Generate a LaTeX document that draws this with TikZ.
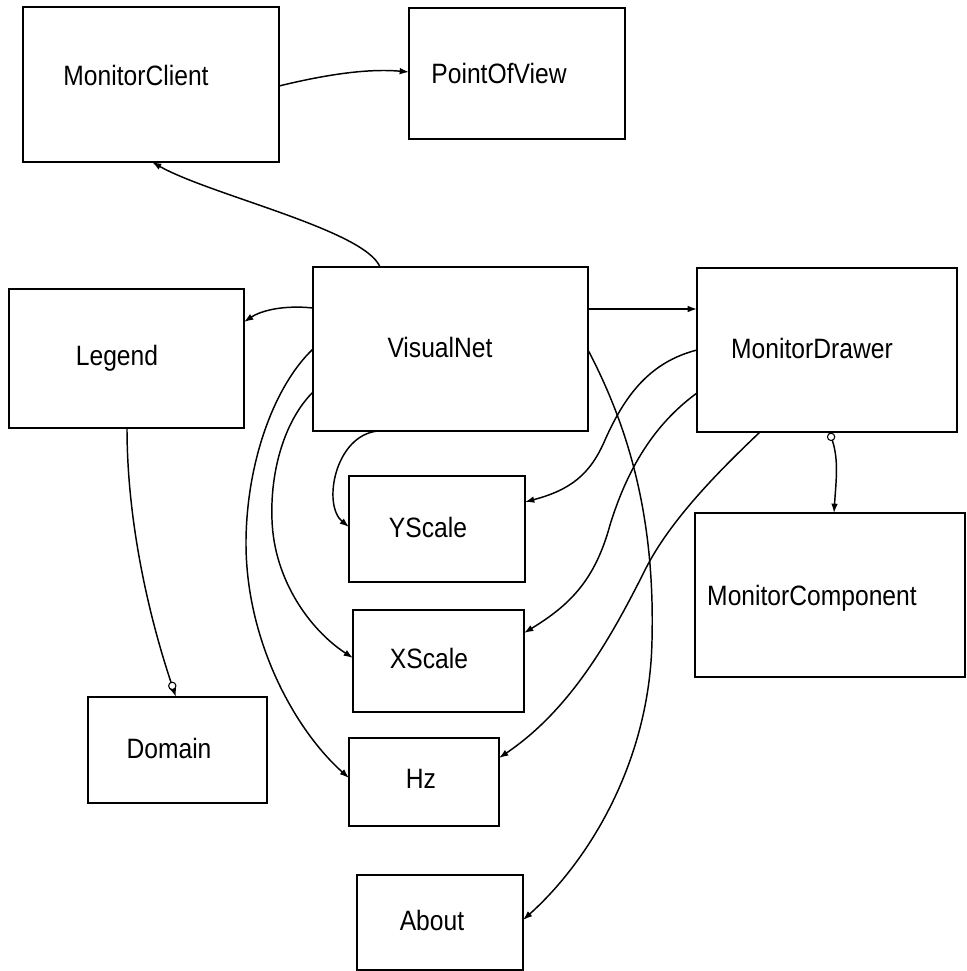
\documentclass[tikz,border=0pt]{standalone}
\usepackage{fontspec}
\setmainfont{Liberation Sans}[FakeStretch=0.88]
\usetikzlibrary{arrows.meta,fit}
\begin{document}
\begin{tikzpicture}[x=0.75pt,y=-0.75pt,
  umlbox/.style={draw, line width=1.7pt, inner sep=0pt, outer sep=0pt},
  lbl/.style={inner sep=0pt, anchor=base, font=\fontsize{21}{25}\selectfont},
  conn/.style={line width=1.1pt, -{Latex[length=7pt,width=5pt]}},
  marker/.style={circle, draw, fill=white, line width=0.8pt, inner sep=0pt, minimum size=5.5pt}]
\useasboundingbox (0,0) rectangle (967,971);
% boxes
\node[umlbox, fit={(23,7) (279,162)}] (mc) {};
\node[lbl] (mct) at (136,85) {MonitorClient};
\node[umlbox, fit={(409,8) (625,139)}] (pov) {};
\node[lbl] (povt) at (499,83) {PointOfView};
\node[umlbox, fit={(313,267) (588,431)}] (vn) {};
\node[lbl] (vnt) at (440,357) {VisualNet};
\node[umlbox, fit={(697,268) (957,432)}] (md) {};
\node[lbl] (mdt) at (812,358) {MonitorDrawer};
\node[umlbox, fit={(9,289) (244,428)}] (lg) {};
\node[lbl] (lgt) at (117,365) {Legend};
\node[umlbox, fit={(349,476) (525,582)}] (ys) {};
\node[lbl] (yst) at (428,537) {YScale};
\node[umlbox, fit={(353,610) (524,712)}] (xs) {};
\node[lbl] (xst) at (429,668) {XScale};
\node[umlbox, fit={(349,738) (499,826)}] (hz) {};
\node[lbl] (hzt) at (421,788) {Hz};
\node[umlbox, fit={(88,697) (267,803)}] (dm) {};
\node[lbl] (dmt) at (169,758) {Domain};
\node[umlbox, fit={(695,513) (965,677)}] (mcp) {};
\node[lbl] (mcpt) at (812,605) {MonitorComponent};
\node[umlbox, fit={(357,875) (523,970)}] (ab) {};
\node[lbl] (abt) at (432,930) {About};
% connectors
\draw[conn] ([shift={(256,79)}]mc.north west) .. controls (320,76) and (365,68) .. ([shift={(0,64)}]pov.north west);
\draw[conn] ([shift={(67,0)}]vn.north west) .. controls (365,230) and (210,195) .. ([shift={(129,155)}]mc.north west);
\draw[conn] ([shift={(0,41)}]vn.north west) .. controls (285,305) and (262,310) .. ([shift={(235,33)}]lg.north west);
\draw[conn] ([shift={(275,42)}]vn.north west) -- ([shift={(0,41)}]md.north west);
\draw[conn] ([shift={(118,139)}]lg.north west) .. controls (127,520) and (148,615) .. ([shift={(88,0)}]dm.north west)
  node[marker, pos=0.955] (m1) {};
\draw[conn] ([shift={(65,164)}]vn.north west) .. controls (335,435) and (322,505) .. ([shift={(0,51)}]ys.north west);
\draw[conn] ([shift={(0,125)}]vn.north west) .. controls (285,420) and (270,470) .. (272,520)
  .. controls (274,580) and (310,630) .. ([shift={(0,48)}]xs.north west);
\draw[conn] ([shift={(0,82)}]vn.north west) .. controls (275,385) and (247,460) .. (246,540)
  .. controls (245,640) and (295,730) .. ([shift={(0,40)}]hz.north west);
\draw[conn] ([shift={(275,83)}]vn.north west) .. controls (630,430) and (655,520) .. (652,640)
  .. controls (650,760) and (590,860) .. ([shift={(166,45)}]ab.north west);
\draw[conn] ([shift={(0,82)}]md.north west) .. controls (650,362) and (625,395) .. (605,440)
  .. controls (590,475) and (570,490) .. ([shift={(176,26)}]ys.north west);
\draw[conn] ([shift={(0,125)}]md.north west) .. controls (660,420) and (630,460) .. (610,525)
  .. controls (595,580) and (570,605) .. ([shift={(171,23)}]xs.north west);
\draw[conn] ([shift={(63,164)}]md.north west) .. controls (720,470) and (670,520) .. (645,570)
  .. controls (610,640) and (570,710) .. ([shift={(150,20)}]hz.north west);
\draw[conn] ([shift={(132,164)}]md.north west) .. controls (840,455) and (836,480) .. ([shift={(139,0)}]mcp.north west)
  node[marker, pos=0.07] (m2) {};
\end{tikzpicture}
\end{document}
